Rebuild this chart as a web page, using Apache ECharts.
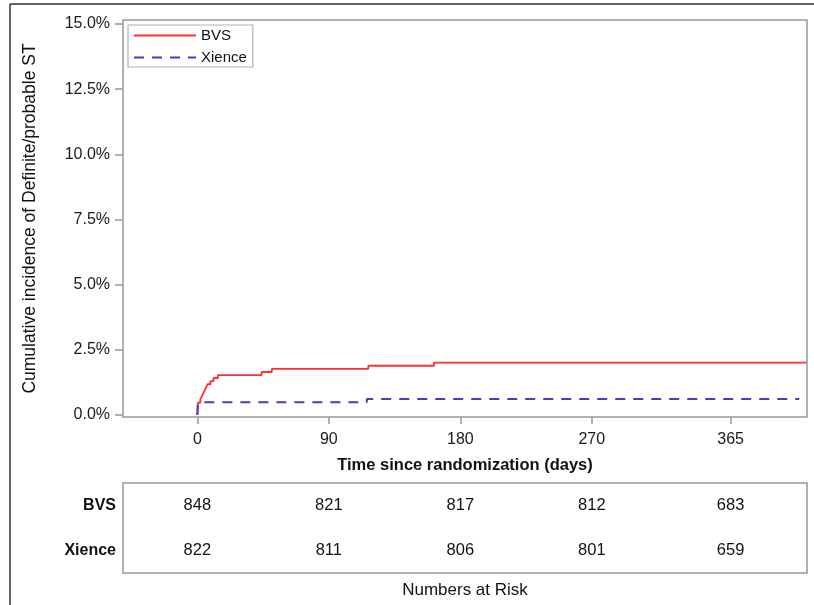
<!DOCTYPE html>
<html>
<head>
<meta charset="utf-8">
<script src="https://cdn.jsdelivr.net/npm/echarts@6/dist/echarts.min.js"></script>
<style>html,body{margin:0;padding:0;background:#fff}#c{width:814px;height:605px}</style>
</head>
<body>
<div id="c"></div>
<script>
// Kaplan-Meier style step data: [day, cumulative incidence %]
const bvsCurve = [[0,0],[0.3,0.47],[2,0.59],[3,0.71],[4,0.83],[5,0.94],[6,1.06],[7,1.18],[9,1.30],[11,1.42],[14,1.53],[44,1.65],[51,1.77],[117,1.89],[162,2.01],[417,2.01]];
const xienceCurve = [[0,0],[0.3,0.36],[1.5,0.49],[116,0.61],[412,0.61]];
const yTicks = [0, 2.5, 5, 7.5, 10, 12.5, 15];
const xTicks = [0, 90, 180, 270, 365];
const riskGroups = ['BVS', 'Xience'];
const riskTimes = [0, 90, 180, 270, 365];
const riskBVS = [848, 821, 817, 812, 683];
const riskXience = [822, 811, 806, 801, 659];

const FONT = 'Liberation Sans, Arial, sans-serif';
const FRAME = '#8d9ca4';
const XMIN = -50.9, XMAX = 417.3;

const chart = echarts.init(document.getElementById('c'), null, {renderer: 'canvas'});
const riskData = [];
riskTimes.forEach((t, i) => {
  riskData.push([t, riskGroups[0], riskBVS[i]]);
  riskData.push([t, riskGroups[1], riskXience[i]]);
});
chart.setOption({
  animation: false,
  backgroundColor: '#fff',
  textStyle: {fontFamily: FONT},
  grid: [
    {left: 123, top: 20, right: 7, bottom: 188, show: true, borderColor: FRAME, borderWidth: 1.5, backgroundColor: 'transparent'},
    {left: 123, top: 483, right: 7, height: 90, show: true, borderColor: FRAME, borderWidth: 1.5, backgroundColor: 'transparent'}
  ],
  legend: {
    left: 128, top: 25, orient: 'vertical',
    itemWidth: 62, itemHeight: 12, itemGap: 7,
    padding: [3, 6, 2, 5],
    borderColor: '#a8b4ba', borderWidth: 1.2,
    itemStyle: {opacity: 0},
    textStyle: {fontFamily: FONT, fontSize: 15, color: '#111'},
    data: ['BVS', 'Xience']
  },
  xAxis: [
    {
      gridIndex: 0, type: 'value', min: XMIN, max: XMAX,
      axisLine: {show: false, onZero: false}, splitLine: {show: false},
      axisTick: {show: true, customValues: xTicks, length: 7, lineStyle: {color: FRAME, width: 1.5}},
      axisLabel: {customValues: xTicks, fontFamily: FONT, fontSize: 16, color: '#1a1a1a', margin: 15},
      name: 'Time since randomization (days)', nameLocation: 'middle', nameGap: 40,
      nameTextStyle: {fontFamily: FONT, fontSize: 16.5, fontWeight: 'bold', color: '#111'}
    },
    {
      gridIndex: 1, type: 'value', min: XMIN, max: XMAX,
      axisLine: {show: false, onZero: false}, splitLine: {show: false}, axisTick: {show: false}, axisLabel: {show: false},
      name: 'Numbers at Risk', nameLocation: 'middle', nameGap: 9,
      nameTextStyle: {fontFamily: FONT, fontSize: 17, color: '#111'}
    }
  ],
  yAxis: [
    {
      gridIndex: 0, type: 'value', min: -0.077, max: 15.153,
      axisLine: {show: false, onZero: false}, splitLine: {show: false},
      axisTick: {show: true, customValues: yTicks, length: 8, lineStyle: {color: FRAME, width: 1.5}},
      axisLabel: {customValues: yTicks, formatter: v => v.toFixed(1) + '%', fontFamily: FONT, fontSize: 16, color: '#1a1a1a', margin: 13},
      name: 'Cumulative incidence of Definite/probable ST', nameLocation: 'middle', nameGap: 84, nameRotate: 90,
      nameTextStyle: {fontFamily: FONT, fontSize: 17.5, color: '#111'}
    },
    {
      gridIndex: 1, type: 'category', data: riskGroups, inverse: true,
      axisLine: {show: false, onZero: false}, axisTick: {show: false}, splitLine: {show: false},
      axisLabel: {fontFamily: FONT, fontSize: 16, fontWeight: 'bold', color: '#111', margin: 7}
    }
  ],
  series: [
    {
      name: 'BVS', type: 'line', step: 'end', xAxisIndex: 0, yAxisIndex: 0,
      data: bvsCurve, symbol: 'none', color: '#ff3030',
      lineStyle: {color: '#ff3030', width: 1.8}
    },
    {
      name: 'Xience', type: 'line', step: 'end', xAxisIndex: 0, yAxisIndex: 0,
      data: xienceCurve, symbol: 'none', color: '#4040c0',
      lineStyle: {color: '#4040c0', width: 2, type: [10, 8]}
    },
    {
      name: 'risk', type: 'scatter', xAxisIndex: 1, yAxisIndex: 1,
      data: riskData, symbolSize: 0, silent: true,
      itemStyle: {opacity: 1},
      label: {show: true, position: 'inside', opacity: 1, formatter: p => String(p.value[2]), fontFamily: FONT, fontSize: 16.5, color: '#111'}
    }
  ],
  graphic: [
    {type: 'line', shape: {x1: 10, y1: 4, x2: 814, y2: 4}, style: {stroke: '#333', lineWidth: 1.5}},
    {type: 'line', shape: {x1: 10, y1: 4, x2: 10, y2: 605}, style: {stroke: '#333', lineWidth: 1.5}}
  ]
});
</script>
</body>
</html>
